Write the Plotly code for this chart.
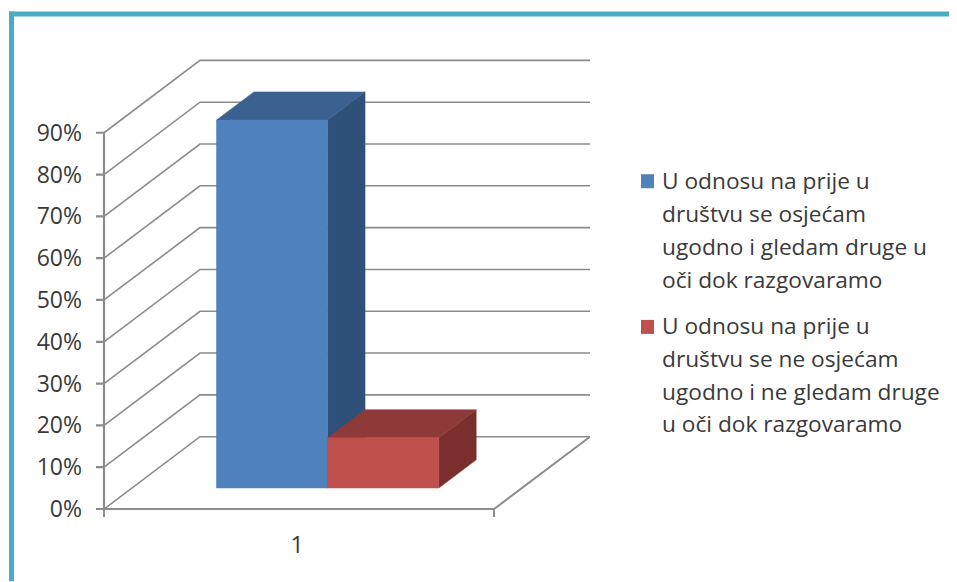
import plotly.graph_objects as go

# ---- data ----
categories = ["1"]
series_names = [
    ["U odnosu na prije u", "društvu se osjećam", "ugodno i gledam druge u", "oči dok razgovaramo"],
    ["U odnosu na prije u", "društvu se ne osjećam", "ugodno i ne gledam druge", "u oči dok razgovaramo"],
]
series_values = [88, 12]
y_ticks = [0, 10, 20, 30, 40, 50, 60, 70, 80, 90]
y_labels = [f"{v}%" for v in y_ticks]

# ---- styles ----
FRONT = ["#4F81BD", "#C0504D"]
TOP = ["#3A6190", "#8E3A38"]
SIDE = ["#2F5079", "#7A2F2D"]
GRID = "#8C8C8C"
TEXT = "#3A3A3A"
FONT = "Open Sans"
W, H = 957, 582
PAGE_MARGIN = 8  # the browser's default body margin

# ---- plot frame (page px): lines are clipped to it, so it is a little larger than the chart ----
L, R, T, B = 94, 593, 56.5, 519.5
X0, Y0 = 104, 509.5      # page position of the front-left floor corner
PX_PER_PCT = 4.19
PX_PER_X = 390
DEPTH_PX = (96, 72.5)
DX = DEPTH_PX[0] / PX_PER_X
DY = DEPTH_PX[1] / PX_PER_PCT
TICK_PX = 8


def proj(x, pct, d):
    """Oblique projection of (x, value, depth) on to the 2D axes."""
    return x + d * DX, pct + d * DY


def px(x):
    return (x - L) / (R - L)


def py(y):
    return (B - y) / (B - T)


fig = go.Figure()


def poly(points, color):
    xs, ys = zip(*[proj(*p) for p in points])
    fig.add_trace(go.Scatter(x=list(xs) + [xs[0]], y=list(ys) + [ys[0]], mode="lines",
                             fill="toself", fillcolor=color, line=dict(color=color, width=0.5),
                             showlegend=False, hoverinfo="skip"))


def path(points, width=1.6):
    xs, ys = zip(*[proj(*p) for p in points])
    fig.add_trace(go.Scatter(x=list(xs), y=list(ys), mode="lines",
                             line=dict(color=GRID, width=width, simplify=False),
                             showlegend=False, hoverinfo="skip"))


# walls and floor
for v in y_ticks:
    path([(0, v, 0), (0, v, 1), (1, v, 1)])
path([(1, 0, 1), (1, 0, 0), (0, 0, 0)], 2)

# value axis with its tick marks, drawn as one comb
comb = []
for v in y_ticks:
    comb += [(0, v, 0), (-TICK_PX / PX_PER_X, v, 0), (0, v, 0)]
path(comb, 2.2)

# category axis tick marks
for x in [0, 1]:
    path([(x, -TICK_PX / PX_PER_PCT, 0), (x, 0, 0)], 2)

# bars
GROUP_START, BAR_W = 0.217, 0.285
D0, D1 = 0.29, 0.68
for i, v in enumerate(series_values):
    x0 = GROUP_START + i * BAR_W
    x1 = x0 + BAR_W
    poly([(x1, 0, D0), (x1, 0, D1), (x1, v, D1), (x1, v, D0)], SIDE[i])
    poly([(x0, v, D0), (x1, v, D0), (x1, v, D1), (x0, v, D1)], TOP[i])
    poly([(x0, 0, D0), (x1, 0, D0), (x1, v, D0), (x0, v, D0)], FRONT[i])

# frame of the slide
BORDER = "#4BACC6"
shapes = [
    dict(type="rect", xref="paper", yref="paper", x0=px(9), x1=px(W), y0=py(11), y1=py(16),
         fillcolor=BORDER, line_width=0, layer="below"),
    dict(type="rect", xref="paper", yref="paper", x0=px(9), x1=px(14), y0=py(11), y1=py(H),
         fillcolor=BORDER, line_width=0, layer="below"),
]

# legend
annotations = []
LEGEND_Y = [[180, 213.5, 246.5, 279], [326, 358.5, 392, 424]]
for i, lines in enumerate(series_names):
    shapes.append(dict(type="rect", xref="paper", yref="paper",
                       x0=px(641), x1=px(654),
                       y0=py(LEGEND_Y[i][0] - 6), y1=py(LEGEND_Y[i][0] + 8),
                       fillcolor=FRONT[i], line_width=0))
    for line, y in zip(lines, LEGEND_Y[i]):
        annotations.append(dict(xref="paper", yref="paper", x=px(661), y=py(y), text=line,
                                showarrow=False, xanchor="left", yanchor="middle",
                                align="left", borderpad=0,
                                font=dict(family=FONT, size=22.7, color=TEXT)))

fig.update_layout(
    width=W - PAGE_MARGIN, height=H - PAGE_MARGIN, autosize=False,
    margin=dict(l=L - PAGE_MARGIN, r=W - R, t=T - PAGE_MARGIN, b=H - B, pad=0),
    paper_bgcolor="white", plot_bgcolor="rgba(0,0,0,0)",
    showlegend=False, shapes=shapes, annotations=annotations,
    xaxis=dict(range=[(L - X0) / PX_PER_X, (R - X0) / PX_PER_X],
               showgrid=False, zeroline=False, showline=False,
               tickmode="array", tickvals=[0.495], ticktext=categories, ticks="",
               ticklabelstandoff=10,
               tickfont=dict(family=FONT, size=23, color=TEXT)),
    yaxis=dict(range=[(Y0 - B) / PX_PER_PCT, (Y0 - T) / PX_PER_PCT],
               showgrid=False, zeroline=False, showline=False,
               tickmode="array", tickvals=y_ticks, ticktext=y_labels, ticks="",
               ticklabelstandoff=11,
               tickfont=dict(family=FONT, size=23, color=TEXT)),
)

fig.write_html("out.html")
